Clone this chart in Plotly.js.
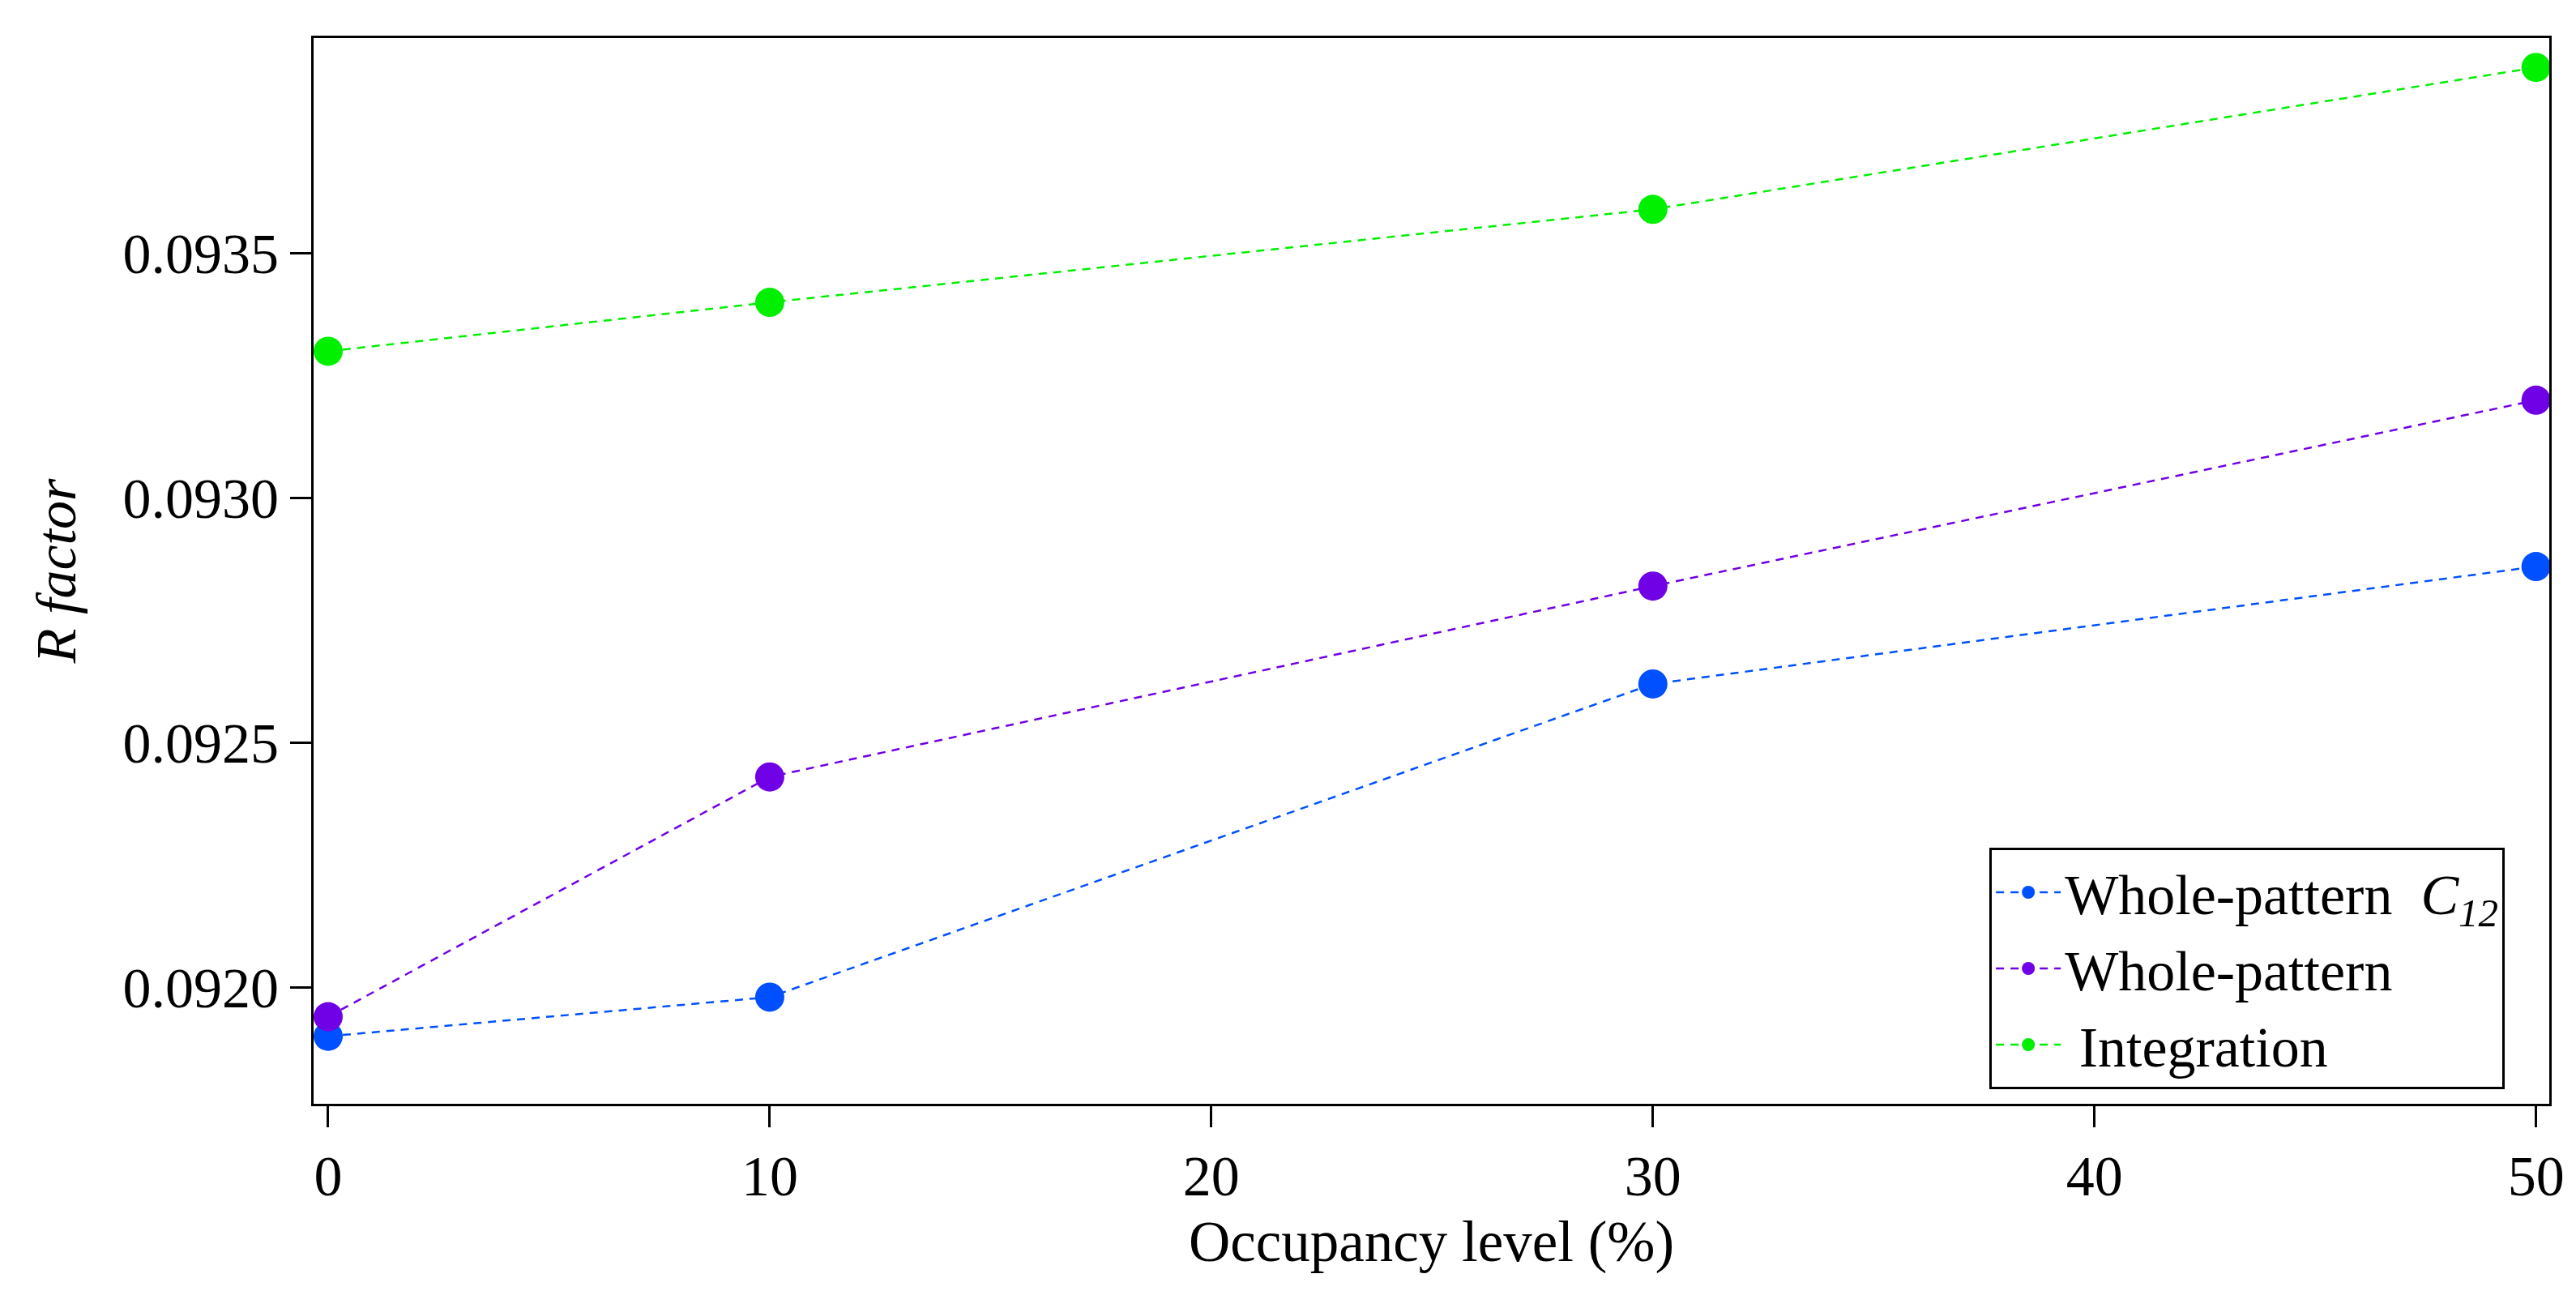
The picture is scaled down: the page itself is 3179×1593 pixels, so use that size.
<!DOCTYPE html>
<html>
<head>
<meta charset="utf-8">
<script src="https://cdn.plot.ly/plotly-3.0.1.min.js"></script>
<style>html,body{margin:0;padding:0;background:#fff;}#chart{width:3179px;height:1593px;}</style>
</head>
<body>
<div id="chart"></div>
<script>
const occupancy = [0, 10, 30, 50];
const wholePatternC12 = [0.09190, 0.09198, 0.09262, 0.09286];
const wholePattern = [0.09194, 0.09243, 0.09282, 0.09320];
const integration = [0.09330, 0.09340, 0.09359, 0.09388];
const seriesNames = ['Whole-pattern\u00a0\u00a0<i>C<sub>12</sub></i>', 'Whole-pattern', '\u00a0Integration'];
const seriesColors = ['#0050ff', '#7000e6', '#00f000'];
const seriesValues = [wholePatternC12, wholePattern, integration];

const font = 'Liberation Serif, Times New Roman, serif';
const traces = seriesValues.map((vals, i) => ({
  x: occupancy, y: vals, type: 'scatter', mode: 'lines+markers',
  name: seriesNames[i],
  line: {color: seriesColors[i], width: 2.5, dash: '10px,8px'},
  marker: {color: seriesColors[i], size: 36, symbol: 'circle'}
}));

const axisCommon = {
  showline: true, linecolor: '#000', linewidth: 3, mirror: true,
  ticks: 'outside', ticklen: 26, tickwidth: 3, tickcolor: '#000',
  showgrid: false, zeroline: false,
  tickfont: {family: font, size: 70, color: '#000'}
};

const layout = {
  width: 3179, height: 1593,
  margin: {l: 387, r: 33, t: 47, b: 231},
  paper_bgcolor: '#fff', plot_bgcolor: '#fff',
  font: {family: font, color: '#000'},
  xaxis: Object.assign({}, axisCommon, {
    range: [-0.33, 50.3], dtick: 10, tick0: 0,
    title: {text: 'Occupancy level (%)', font: {family: font, size: 71, color: '#000'}, standoff: 18}
  }),
  yaxis: Object.assign({}, axisCommon, {
    range: [0.091762, 0.09394], dtick: 0.0005, tick0: 0.0920, tickformat: '.4f',
    title: {text: '<i>R factor</i>', font: {family: font, size: 70, color: '#000'}, standoff: 36}
  }),
  legend: {
    x: 0.7496, y: 0.0137, xanchor: 'left', yanchor: 'bottom',
    bordercolor: '#000', borderwidth: 3, bgcolor: '#fff',
    font: {family: font, size: 70, color: '#000'},
    tracegroupgap: 0, itemwidth: 80
  },
  showlegend: true
};

Plotly.newPlot('chart', traces, layout, {displayModeBar: false, staticPlot: true});
</script>
</body>
</html>
